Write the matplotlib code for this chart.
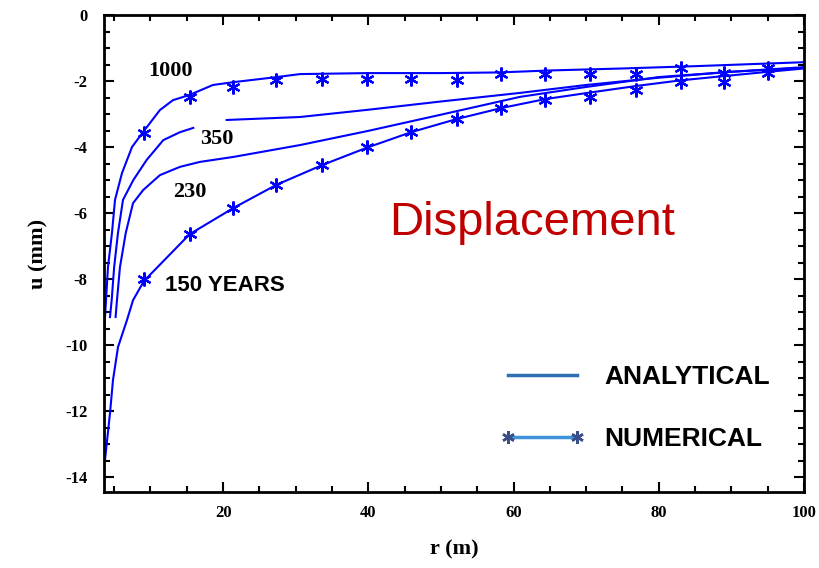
import numpy as np
import matplotlib
matplotlib.use('Agg')
import matplotlib.pyplot as plt
from matplotlib.lines import Line2D
from matplotlib.ticker import MultipleLocator

# %% data (r in m, u in mm)
r_1000 = [3.6, 3.74, 3.88, 4.15, 4.7, 5.12, 6.08, 7.46, 8.97, 11.3, 13.1, 15.4, 18.6,
          21.6, 27.4, 30.6, 40, 50, 58, 65, 75, 85, 95, 100]
u_1000 = [-10.06, -9.15, -8.64, -7.64, -6.6, -5.6, -4.79, -4.0, -3.55, -2.88, -2.58, -2.42,
          -2.12, -2.03, -1.88, -1.79, -1.76, -1.76, -1.74, -1.68, -1.62, -1.55, -1.47, -1.43]

# the 350 curve is broken where its label sits
r_350 = [4.43, 4.66, 5.0, 5.53, 6.22, 7.64, 9.48, 11.77, 14.07, 15.9, np.nan,
         20.5, 30.6, 40, 50, 60.9, 70, 80, 90, 100]
u_350 = [-9.15, -8.64, -7.64, -6.6, -5.6, -5.0, -4.39, -3.79, -3.55, -3.42, np.nan,
         -3.18, -3.09, -2.87, -2.62, -2.36, -2.12, -1.9, -1.72, -1.6]

r_230 = [5.2, 5.39, 5.8, 6.6, 7.6, 9.01, 11.31, 14.07, 16.82, 21.41, 30.6, 40, 50,
         60.9, 70, 80, 90, 100]
u_230 = [-9.15, -8.64, -7.64, -6.6, -5.7, -5.3, -4.85, -4.6, -4.45, -4.3, -3.94, -3.51,
         -3.02, -2.48, -2.18, -1.88, -1.72, -1.58]

r_150 = [3.74, 4.43, 4.84, 5.53, 6.77, 7.6, 9.1, 15.4, 21.4, 27.3, 33.6, 39.8, 45.9,
         52.2, 58.3, 64.3, 70.5, 76.9, 83.0, 89.0, 95.1, 100]
u_150 = [-13.48, -12.06, -11.06, -10.06, -9.24, -8.64, -8.06, -6.64, -5.85, -5.15, -4.55,
         -4.02, -3.55, -3.15, -2.82, -2.55, -2.35, -2.15, -1.98, -1.85, -1.72, -1.62]

# numerical (star) points
r_num = [9.1, 15.4, 21.4, 27.3, 33.6, 39.8, 45.9, 52.2, 58.3, 64.3, 70.5, 76.9, 83.0, 89.0, 95.1]
u_num_1000 = [-3.58, -2.48, -2.18, -1.97, -1.93, -1.94, -1.94, -1.97, -1.79, -1.79, -1.79,
              -1.79, -1.62, -1.76, -1.62]
u_num_150 = [-8.0, -6.64, -5.85, -5.15, -4.55, -4.0, -3.55, -3.15, -2.82, -2.58, -2.48,
             -2.27, -2.03, -2.03, -1.76]

curve_labels = ['1000', '350', '230', '150 YEARS']

# %%
blue = '#0000ff'
star = (6, 2, 0)
sans = ['Liberation Sans', 'DejaVu Sans']
serif = ['Liberation Serif', 'DejaVu Serif']

fig = plt.figure(figsize=(8.2, 5.68), dpi=100)
ax = fig.add_axes([0.1268, 0.1338, 0.8537, 0.8398])

for r, u in [(r_1000, u_1000), (r_350, u_350), (r_230, u_230), (r_150, u_150)]:
    ax.plot(r, u, color=blue, lw=1.5)
for u in [u_num_1000, u_num_150]:
    ax.plot(r_num, u, ls='none', marker=star, ms=10, mew=1.6, color=blue)

ax.set_xlim(3.6, 100)
ax.set_ylim(-14.45, 0)

ax.xaxis.set_major_locator(MultipleLocator(20))
ax.xaxis.set_minor_locator(MultipleLocator(5))
ax.yaxis.set_major_locator(MultipleLocator(2))
ax.yaxis.set_minor_locator(MultipleLocator(0.5))
ax.tick_params(which='both', direction='in', top=True, right=True, width=1.5)
ax.tick_params(which='major', length=7)
ax.tick_params(which='minor', length=4)
ax.tick_params(axis='y', pad=12)
ax.tick_params(axis='x', pad=9)
ax.set_xticks([20, 40, 60, 80, 100])
ax.set_yticks([0, -2, -4, -6, -8, -10, -12, -14])
ax.set_yticklabels(['0', '-2', '-4', '-6', '-8', '-10', '-12', '-14'],
                   family=serif, fontweight='bold', fontsize=12)
ax.set_xticklabels(['20', '40', '60', '80', '100'],
                   family=serif, fontweight='bold', fontsize=12)
for s in ax.spines.values():
    s.set_linewidth(2)

ax.set_xlabel('r (m)', family=serif, fontweight='bold', fontsize=16, labelpad=14)
ax.set_ylabel('u (mm)', family=serif, fontweight='bold', fontsize=16, labelpad=12)

# curve labels
ax.text(12.7, -1.7, curve_labels[0], family=serif, fontweight='bold', fontsize=16,
        ha='center', va='center')
ax.text(19.2, -3.76, curve_labels[1], family=serif, fontweight='bold', fontsize=16,
        ha='center', va='center')
ax.text(15.4, -5.36, curve_labels[2], family=serif, fontweight='bold', fontsize=16,
        ha='center', va='center')
ax.text(20.3, -8.18, curve_labels[3], family=sans, fontweight='bold', fontsize=16,
        ha='center', va='center')

ax.text(62.6, -6.3, 'Displacement', family=sans,
        fontsize=34, color='#c00000', ha='center', va='center')

handles = [Line2D([], [], color='#2e6eb5', lw=2.5),
           Line2D([], [], color='#3d93db', lw=2.5, marker=star, ms=9, mew=1.8,
                  mec='#3a4f8a')]
ax.legend(handles, ['ANALYTICAL', 'NUMERICAL'], loc='center left',
          bbox_to_anchor=(0.566, 0.176), frameon=False, numpoints=2,
          borderpad=0, borderaxespad=0, handlelength=3.2, handletextpad=0.75,
          labelspacing=1.45, prop={'family': sans, 'weight': 'bold', 'size': 19})

fig.savefig('out.png', dpi=100)
